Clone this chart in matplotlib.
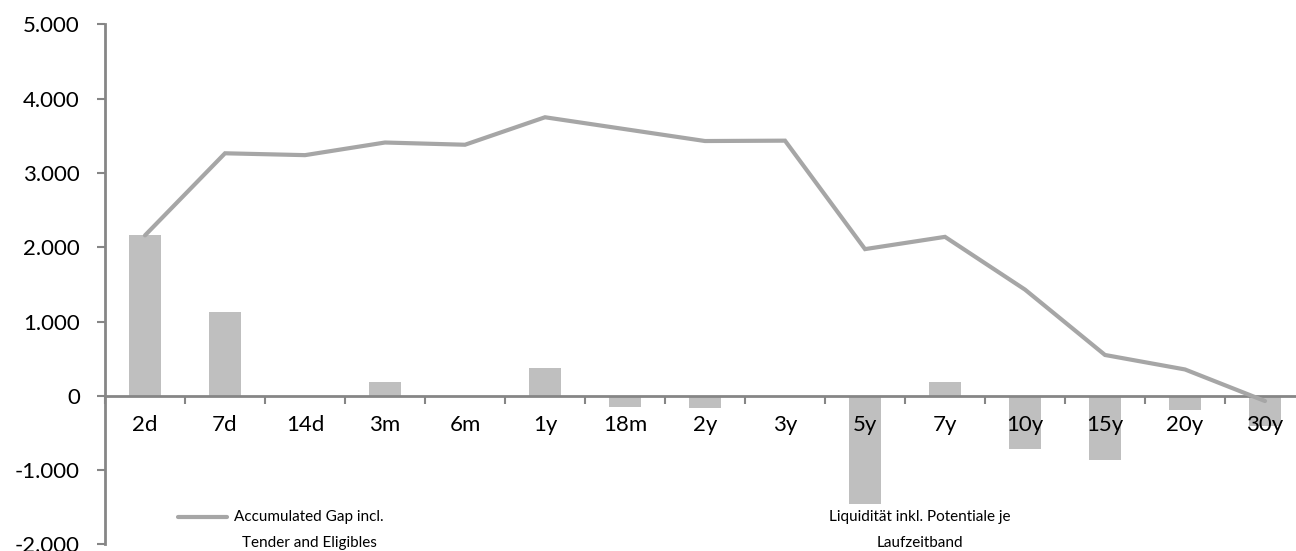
import matplotlib.pyplot as plt
import numpy as np
from matplotlib.ticker import FuncFormatter, FixedLocator
from matplotlib.legend_handler import HandlerLine2D

# Values
categories = ['2d', '7d', '14d', '3m', '6m', '1y', '18m', '2y', '3y', '5y', '7y', '10y', '15y', '20y', '30y']
liquidity = [2170, 1130, 0, 190, -20, 375, -150, -160, 0, -1455, 180, -715, -865, -190, -405]
accumulated = [2160, 3265, 3240, 3410, 3380, 3750, 3590, 3430, 3435, 1975, 2140, 1430, 550, 355, -70]

bar_label = 'Liquidität inkl. Potentiale je\nLaufzeitband'
line_label = 'Accumulated Gap incl.\nTender and Eligibles'


class RaisedLine(HandlerLine2D):
    # put the legend line next to the first text row, like Excel does
    def create_artists(self, legend, orig_handle, xdescent, ydescent, width, height, fontsize, trans):
        artists = super().create_artists(legend, orig_handle, xdescent, ydescent, width, height,
                                         fontsize, trans)
        for a in artists:
            a.set_ydata(np.asarray(a.get_ydata()) + 9.4)
        return artists


plt.rcParams['font.family'] = ['Lato', 'DejaVu Sans']

fig = plt.figure(figsize=(12.96, 5.51), dpi=100)
ax = fig.add_axes([105 / 1296, 6.6 / 551, 1200 / 1296, 520 / 551])

x = np.arange(len(categories))
bars = ax.bar(x, liquidity, width=0.4, color='#BFBFBF', zorder=1)
line, = ax.plot(x, accumulated, color='#A6A6A6', linewidth=3, solid_capstyle='round',
                solid_joinstyle='miter', zorder=4)
ax.xaxis.set_zorder(3)
ax.yaxis.set_zorder(3)

ax.set_xlim(-0.5, len(categories) - 0.5)
ax.set_ylim(-2000, 5000)
ax.set_yticks(np.arange(-2000, 5001, 1000))
ax.yaxis.set_major_formatter(FuncFormatter(lambda v, p: f'{int(v):,}'.replace(',', '.')))

# category boundary ticks, labels in the middle
ax.xaxis.set_major_locator(FixedLocator(np.arange(-0.5, len(categories), 1.0)))
ax.xaxis.set_minor_locator(FixedLocator(x))
ax.set_xticklabels([])
ax.set_xticklabels(categories, minor=True)
ax.tick_params(axis='x', which='major', direction='out', length=6, width=1.5, color='#868686')
ax.tick_params(axis='x', which='minor', length=0, pad=14, labelsize=16)
ax.tick_params(axis='y', direction='out', length=6, width=1.5, color='#868686', labelsize=16, pad=12)

for s in ['top', 'right']:
    ax.spines[s].set_visible(False)
ax.spines['bottom'].set_position(('data', 0))
ax.spines['bottom'].set_color('#868686')
ax.spines['bottom'].set_linewidth(2)
ax.spines['bottom'].set_zorder(3)
ax.spines['left'].set_color('#868686')
ax.spines['left'].set_linewidth(2)
ax.spines['left'].set_bounds(-2000, 5000)

leg1 = fig.legend([line], [line_label], loc='center', bbox_to_anchor=(281 / 1296, 1 - 530 / 551),
                  frameon=False, fontsize=11, handlelength=3.2, handletextpad=0.5,
                  handler_map={line: RaisedLine()})
for t in leg1.get_texts():
    t.set_multialignment('center')
    t.set_linespacing(2.1)

leg2 = fig.legend([bars], [bar_label], loc='center', bbox_to_anchor=(920 / 1296, 1 - 530 / 551),
                  frameon=False, fontsize=11, handlelength=0, handletextpad=0)
for t in leg2.get_texts():
    t.set_multialignment('center')
    t.set_linespacing(2.1)
for h in leg2.legend_handles:
    h.set_visible(False)

fig.savefig('out.png', dpi=100)
